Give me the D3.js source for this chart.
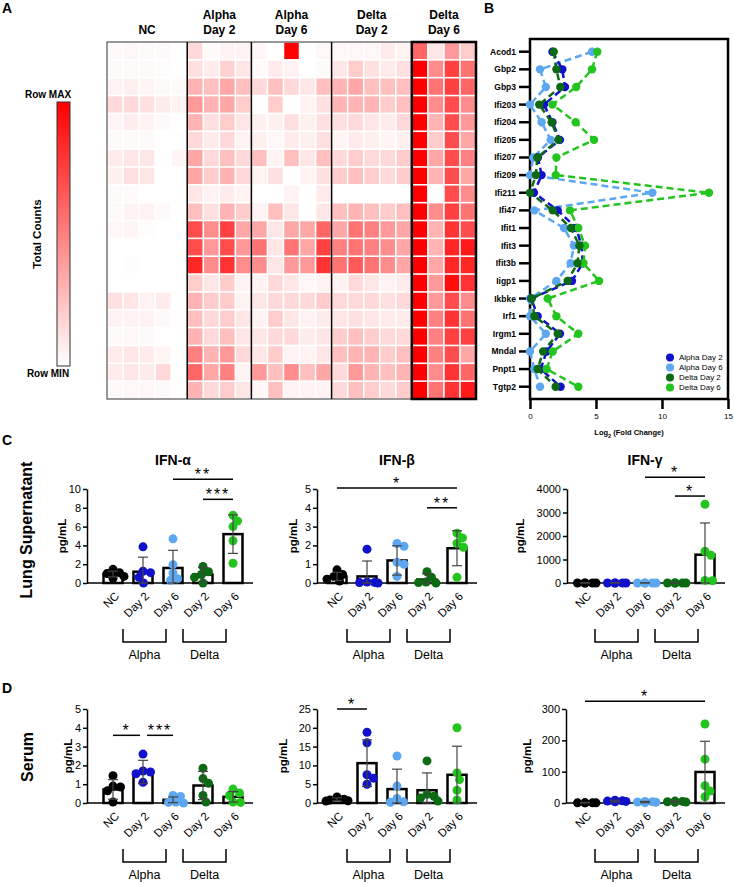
<!DOCTYPE html>
<html>
<head>
<meta charset="utf-8">
<script src="https://cdn.jsdelivr.net/npm/d3@7"></script>
<style>
body { margin: 0; background: #fff; }
text { font-family: Arial, "Liberation Sans", sans-serif; }
</style>
</head>
<body>
<svg id="fig" width="734" height="882"></svg>
<script>
// ---------- data ----------
var genes = ["Acod1","Gbp2","Gbp3","Ifi203","Ifi204","Ifi205","Ifi207","Ifi209","Ifi211","Ifi47",
             "Ifit1","Ifit3","Ifit3b","Iigp1","Ikbke","Irf1","Irgm1","Mndal","Pnpt1","Tgtp2"];

var heatGroups = [["NC"],["Alpha","Day 2"],["Alpha","Day 6"],["Delta","Day 2"],["Delta","Day 6"]];

// row-scaled counts (0 = row min, 1 = row max), one row per gene
var heatNC = [
 [0.02,0.03,0.02,0.02,0.0],[0.02,0.02,0.02,0.01,0.0],[0.05,0.06,0.04,0.02,0.02],[0.15,0.15,0.12,0.08,0.05],
 [0.04,0.07,0.05,0.02,0.0],[0.02,0.02,0.02,0.0,0.0],[0.08,0.1,0.1,0.0,0.04],[0.06,0.12,0.1,0.0,0.0],
 [0.02,0.02,0.0,0.0,0.0],[0.02,0.05,0.05,0.02,0.0],[0.03,0.04,0.01,0.0,0.0],[0.0,0.0,0.0,0.0,0.0],
 [0.0,0.01,0.0,0.0,0.0],[0.0,0.0,0.0,0.0,0.0],[0.12,0.1,0.05,0.08,0.0],[0.05,0.05,0.05,0.02,0.0],
 [0.02,0.03,0.02,0.0,0.0],[0.08,0.1,0.08,0.04,0.0],[0.08,0.1,0.08,0.15,0.0],[0.02,0.03,0.03,0.02,0.0]
];
var heatAlphaD2 = [
 [0.15,0.02,0.05,0.05],[0.12,0.08,0.18,0.1],[0.3,0.25,0.35,0.25],[0.4,0.3,0.35,0.2],
 [0.3,0.12,0.2,0.1],[0.15,0.08,0.15,0.05],[0.35,0.15,0.25,0.15],[0.35,0.2,0.3,0.15],
 [0.1,0.05,0.08,0.05],[0.25,0.12,0.3,0.2],[0.7,0.45,0.75,0.35],[0.7,0.4,0.7,0.4],
 [0.85,0.45,0.8,0.45],[0.2,0.1,0.2,0.05],[0.3,0.2,0.2,0.05],[0.25,0.15,0.2,0.1],
 [0.3,0.15,0.25,0.1],[0.5,0.3,0.4,0.15],[0.6,0.35,0.5,0.05],[0.3,0.15,0.2,0.1]
];
var heatAlphaD6 = [
 [0.03,0.0,1.0,0.0,0.03],[0.02,0.08,0.05,0.0,0.02],[0.15,0.25,0.15,0.1,0.25],[0.0,0.2,0.0,0.05,0.12],
 [0.06,0.06,0.12,0.06,0.12],[0.06,0.03,0.08,0.06,0.12],[0.25,0.05,0.25,0.1,0.25],[0.05,0.12,0.0,0.05,0.12],
 [0.0,0.0,0.05,0.0,0.08],[0.05,0.25,0.1,0.0,0.1],[0.35,0.1,0.35,0.35,0.6],[0.55,0.1,0.55,0.35,0.75],
 [0.45,0.1,0.4,0.4,0.8],[0.05,0.15,0.1,0.03,0.05],[0.1,0.15,0.15,0.15,0.2],[0.05,0.2,0.1,0.05,0.08],
 [0.1,0.15,0.15,0.08,0.1],[0.1,0.2,0.05,0.05,0.1],[0.4,0.25,0.45,0.25,0.35],[0.03,0.25,0.05,0.05,0.05]
];
var heatDeltaD2 = [
 [0.03,0.03,0.03,0.08,0.05],[0.1,0.2,0.12,0.08,0.12],[0.3,0.35,0.25,0.25,0.25],[0.3,0.3,0.3,0.2,0.25],
 [0.12,0.15,0.1,0.08,0.15],[0.04,0.08,0.06,0.04,0.06],[0.15,0.2,0.15,0.15,0.2],[0.2,0.25,0.2,0.15,0.2],
 [0.0,0.0,0.0,0.0,0.0],[0.25,0.3,0.25,0.2,0.25],[0.35,0.55,0.5,0.4,0.35],[0.5,0.55,0.5,0.45,0.35],
 [0.55,0.65,0.55,0.45,0.35],[0.05,0.15,0.1,0.05,0.08],[0.15,0.15,0.15,0.12,0.15],[0.1,0.12,0.1,0.08,0.08],
 [0.2,0.25,0.2,0.15,0.15],[0.25,0.3,0.3,0.2,0.25],[0.15,0.4,0.3,0.25,0.3],[0.15,0.25,0.2,0.15,0.2]
];
var heatDeltaD6 = [
 [0.6,0.1,0.4,0.2],[1.0,0.45,0.75,0.55],[1.0,0.55,0.75,0.6],[1.0,0.45,0.7,0.45],
 [1.0,0.3,0.7,0.4],[1.0,0.2,0.7,0.35],[1.0,0.35,0.7,0.5],[1.0,0.3,0.7,0.35],
 [1.0,0.0,0.7,0.45],[1.0,0.45,0.75,0.55],[1.0,0.3,0.8,0.7],[1.0,0.3,0.85,0.9],
 [1.0,0.35,0.85,0.85],[1.0,0.4,0.95,0.8],[1.0,0.4,0.7,0.45],[1.0,0.5,0.8,0.55],
 [1.0,0.5,0.75,0.75],[1.0,0.5,0.7,0.35],[1.0,0.45,0.8,0.6],[1.0,0.55,0.8,0.9]
];

// log2 fold change per gene
var fcSeries = ["Alpha Day 2","Alpha Day 6","Delta Day 2","Delta Day 6"];
var fcAlphaD2 = [1.7,2.45,2.65,1.06,1.7,2.27,0.6,0.88,0.3,2.1,3.5,3.9,4.0,3.18,0.1,0.58,2.27,1.26,0.81,2.32];
var fcAlphaD6 = [4.7,0.76,1.2,0.0,0.88,1.57,0.25,0.0,9.27,0.33,2.58,3.33,3.08,2.0,0.0,0.0,1.2,0.0,0.33,0.76];
var fcDeltaD2 = [1.8,2.0,2.3,0.7,1.64,2.15,0.55,0.45,0.0,1.72,3.1,3.74,3.6,2.85,0.13,0.33,2.1,1.0,0.58,1.94];
var fcDeltaD6 = [5.1,4.7,3.5,1.7,3.46,4.85,2.0,1.95,13.56,3.03,3.66,4.17,4.05,5.23,1.34,2.0,3.66,1.72,1.26,3.66];
var fcTicks = [0,5,10,15];

// cytokines, pg/mL
var categories = ["NC","Day 2","Day 6","Day 2","Day 6"];
var groupColors = ["#000000","#1111c9","#5ca7f0","#0c6a12","#24c41f"];

var lungIfnaMean = [0.95,1.2,1.6,0.9,5.2];
var lungIfnaSd   = [0.3,1.55,1.88,0.75,2.05];
var lungIfnaDots = [[1.45,1.1,1.0,0.7,0.5],[3.85,1.25,1.1,0.6,0.0],[4.7,1.95,1.06,0.46,0.28],[1.75,1.2,0.9,0.6,0.0],[7.2,6.6,6.0,4.5,2.1]];
var lungIfnaTicks = [0,2,4,6,8,10];
var lungIfnaSig = [[2,4,"**",11.05],[3,4,"***",8.9]];

var lungIfnbMean = [0.35,0.35,1.2,0.18,1.85];
var lungIfnbSd   = [0.22,0.82,0.78,0.32,0.93];
var lungIfnbDots = [[0.7,0.45,0.35,0.2,0.1],[1.8,0.05,0.03,0.02,0.0],[2.1,1.95,1.1,1.0,0.35],[0.6,0.3,0.05,0.02,0.0],[2.65,2.4,2.1,1.9,0.3]];
var lungIfnbTicks = [0,1,2,3,4,5];
var lungIfnbSig = [[0,4,"*",5.05],[3,4,"**",4.0]];

var lungIfngMean = [5,5,5,5,1205];
var lungIfngSd   = [3,3,3,3,1350];
var lungIfngDots = [[0,0,0,0,0],[0,0,0,0,0],[0,0,0,0,0],[0,0,0,0,0],[3350,1350,1180,110,100]];
var lungIfngTicks = [0,1000,2000,3000,4000];
var lungIfngSig = [[2,4,"*",4500],[3,4,"*",3700]];

var serumIfnaMean = [0.72,1.65,0.17,0.93,0.33];
var serumIfnaSd   = [0.52,0.62,0.15,0.75,0.28];
var serumIfnaDots = [[1.45,0.9,0.85,0.65,0.05],[2.6,1.7,1.65,1.55,1.1],[0.4,0.35,0.05,0.03,0.0],[1.85,1.3,1.05,0.4,0.05],[0.74,0.53,0.4,0.05,0.03]];
var serumIfnaTicks = [0,1,2,3,4,5];
var serumIfnaSig = [[0,1,"*",3.6],[1,2,"***",3.6]];

var serumIfnbMean = [0.95,10.6,3.7,3.4,7.5];
var serumIfnbSd   = [0.4,6.2,5.3,4.6,7.6];
var serumIfnbDots = [[1.6,1.0,0.8,0.6,0.5],[18.8,16.0,7.5,6.6,5.0],[12.5,4.5,1.2,0.3,0.2],[11.2,2.3,1.8,1.3,0.5],[20.0,8.0,6.2,3.4,0.8]];
var serumIfnbTicks = [0,5,10,15,20,25];
var serumIfnbSig = [[0,1,"*",25]];

var serumIfngMean = [1,6,3,4,99];
var serumIfngSd   = [1,3,2,2,98];
var serumIfngDots = [[0.5,0.5,0.5,0.5,0.5],[9,7,6,5,4],[5,4,3,2,1],[6,5,4,3,2],[252,140,55,38,20]];
var serumIfngTicks = [0,100,200,300];
var serumIfngSig = [[0,4,"*",325]];

// ---------- drawing ----------
var svg = d3.select("#fig");

function addText(x, y, txt, size, weight, anchor) {
    return svg.append("text").attr("x", x).attr("y", y).text(txt)
        .style("font-size", size + "px").style("font-weight", weight || "normal")
        .attr("text-anchor", anchor || "start").attr("fill", "#000");
}

addText(2, 13, "A", 14, "bold");
addText(484, 13, "B", 14, "bold");
addText(2, 445, "C", 14, "bold");
addText(2, 693, "D", 14, "bold");

// ---- panel A heatmap
var heatData = [heatNC, heatAlphaD2, heatAlphaD6, heatDeltaD2, heatDeltaD6];
var nCols = d3.sum(heatData, function(g){ return g[0].length; });
var colX = d3.scaleLinear().domain([0, nCols]).range([107, 476]);
var rowY = d3.scaleLinear().domain([0, genes.length]).range([42, 399]);
var heatColor = d3.scaleLinear().domain([0, 1]).range(["#ffffff", "#ff0000"]);

var heatG = svg.append("g");
var start = 0, bounds = [];
heatData.forEach(function(group, gi) {
    var n = group[0].length;
    bounds.push([start, start + n]);
    group.forEach(function(row, ri) {
        row.forEach(function(v, ci) {
            heatG.append("rect")
                .attr("x", colX(start + ci) + 0.8).attr("y", rowY(ri) + 0.8)
                .attr("width", colX(1) - colX(0) - 1.6).attr("height", rowY(1) - rowY(0) - 1.6)
                .attr("fill", heatColor(v));
        });
    });
    var mid = (colX(start) + colX(start + n)) / 2;
    var lines = heatGroups[gi];
    if (lines.length == 1) {
        addText(mid, 34, lines[0], 12, "bold", "middle");
    } else {
        addText(mid, 19, lines[0], 12, "bold", "middle");
        addText(mid, 34, lines[1], 12, "bold", "middle");
    }
    start += n;
});
heatG.append("rect").attr("x", colX(0)).attr("y", rowY(0))
    .attr("width", colX(nCols) - colX(0)).attr("height", rowY(genes.length) - rowY(0))
    .attr("fill", "none").attr("stroke", "#333").attr("stroke-width", 1);
bounds.slice(1).forEach(function(b) {
    heatG.append("line").attr("x1", colX(b[0])).attr("x2", colX(b[0]))
        .attr("y1", rowY(0)).attr("y2", rowY(genes.length))
        .attr("stroke", "#000").attr("stroke-width", 1.5);
});
var last = bounds[bounds.length - 1];
heatG.append("rect").attr("x", colX(last[0])).attr("y", rowY(0))
    .attr("width", colX(last[1]) - colX(last[0])).attr("height", rowY(genes.length) - rowY(0))
    .attr("fill", "none").attr("stroke", "#000").attr("stroke-width", 2.5);

// colour bar
var grad = svg.append("defs").append("linearGradient").attr("id", "rowgrad")
    .attr("x1", 0).attr("y1", 1).attr("x2", 0).attr("y2", 0);
grad.append("stop").attr("offset", 0).attr("stop-color", heatColor(0));
grad.append("stop").attr("offset", 1).attr("stop-color", heatColor(1));
svg.append("rect").attr("x", 57).attr("y", 102).attr("width", 13).attr("height", 264)
    .attr("fill", "url(#rowgrad)").attr("stroke", "#333").attr("stroke-width", 1);
addText(48, 98, "Row MAX", 10, "bold", "middle");
addText(48, 377, "Row MIN", 10, "bold", "middle");
addText(0, 0, "Total Counts", 11.5, "bold", "middle").attr("transform", "translate(41,234) rotate(-90)");

// ---- panel B fold change
var bx = d3.scaleLinear().domain([0, 15]).range([530, 728]);
var by = d3.scalePoint().domain(genes).range([51.7, 386.7]);
var bG = svg.append("g");
bG.append("rect").attr("x", 530).attr("y", 39).attr("width", 198).attr("height", 360)
    .attr("fill", "none").attr("stroke", "#000").attr("stroke-width", 2.5);
genes.forEach(function(g) {
    bG.append("line").attr("x1", 519).attr("x2", 530).attr("y1", by(g)).attr("y2", by(g))
        .attr("stroke", "#000").attr("stroke-width", 2.5);
    addText(516, by(g), g, 8.5, "bold", "end").attr("dy", "0.35em");
});
var bxAxis = bG.append("g").attr("transform", "translate(0,399)")
    .call(d3.axisBottom(bx).tickValues(fcTicks).tickSize(10).tickSizeOuter(0));
bxAxis.select(".domain").remove();
bxAxis.selectAll("line").attr("stroke", "#000").attr("stroke-width", 2.5);
bxAxis.selectAll("text").style("font-size", "8px").attr("dy", "0.9em").attr("fill", "#000")
    .style("font-family", "Arial, 'Liberation Sans', sans-serif");
var xTitle = addText(629, 435, "Log", 7.5, "bold", "middle");
xTitle.append("tspan").text("2").attr("baseline-shift", "sub").style("font-size", "5.5px");
xTitle.append("tspan").text(" (Fold Change)");

var fcData = [fcAlphaD2, fcAlphaD6, fcDeltaD2, fcDeltaD6];
var fcColors = [groupColors[1], groupColors[2], groupColors[3], groupColors[4]];
var fcLine = d3.line().x(function(d){ return bx(d[1]); }).y(function(d){ return by(d[0]); });
[1, 0, 3, 2].forEach(function(si) {
    var pts = genes.map(function(g, i){ return [g, fcData[si][i]]; });
    bG.append("path").attr("d", fcLine(pts)).attr("fill", "none")
        .attr("stroke", fcColors[si]).attr("stroke-width", 2.5).attr("stroke-dasharray", "7,4");
    pts.forEach(function(p) {
        bG.append("circle").attr("cx", bx(p[1])).attr("cy", by(p[0])).attr("r", 4.2).attr("fill", fcColors[si]);
    });
});
fcSeries.forEach(function(s, i) {
    var yy = 357.5 + i * 10;
    bG.append("circle").attr("cx", 670).attr("cy", yy).attr("r", 4).attr("fill", fcColors[i]);
    addText(679, yy, s, 8, "normal", "start").attr("dy", "0.35em");
});

// ---- panels C and D bar charts
function swarm(vals, y, r) {
    var placed = [];
    vals.forEach(function(v) {
        var py = y(v), dx = 0;
        for (var k = 0; k < 60; k++) {
            var cand = (k % 2 ? 1 : -1) * Math.ceil(k / 2) * 0.5;
            var ok = placed.every(function(q){ return Math.hypot(q.dx - cand, q.y - py) >= 1.6 * r; });
            if (ok) { dx = cand; break; }
        }
        dx = Math.max(-11, Math.min(11, dx));
        placed.push({v: v, y: py, dx: dx});
    });
    return placed;
}

function drawBarChart(cfg) {
    var g = svg.append("g");
    var yMax = cfg.ticks[cfg.ticks.length - 1];
    var y = d3.scaleLinear().domain([0, yMax]).range([cfg.y0, cfg.y0 - 94]);
    var cx = function(i){ return cfg.x0 + cfg.first + i * 30; };
    var xEnd = cx(categories.length - 1) + 20;

    var ax = g.append("g").attr("transform", "translate(" + cfg.x0 + ",0)")
        .call(d3.axisLeft(y).tickValues(cfg.ticks).tickSize(4).tickSizeOuter(0).tickPadding(2)
              .tickFormat(d3.format("d")));
    ax.select(".domain").attr("stroke", "#000").attr("stroke-width", 1.5);
    ax.selectAll("line").attr("stroke", "#000").attr("stroke-width", 1.5);
    ax.selectAll("text").style("font-size", "11px").attr("fill", "#000")
        .style("font-family", "Arial, 'Liberation Sans', sans-serif");
    g.append("line").attr("x1", cfg.x0).attr("x2", xEnd).attr("y1", cfg.y0).attr("y2", cfg.y0)
        .attr("stroke", "#000").attr("stroke-width", 1.5);

    categories.forEach(function(c, i) {
        var m = cfg.mean[i], s = cfg.sd[i], col = groupColors[i];
        g.append("rect").attr("x", cx(i) - 9.5).attr("y", y(m)).attr("width", 19)
            .attr("height", Math.max(0, cfg.y0 - y(m)))
            .attr("fill", "none").attr("stroke", "#000").attr("stroke-width", 2.5);
        swarm(cfg.dots[i], y, 4.5).forEach(function(p) {
            g.append("circle").attr("cx", cx(i) + p.dx).attr("cy", p.y).attr("r", 4.5).attr("fill", col);
        });
        var lo = y(Math.max(0, m - s)), hi = y(m + s);
        g.append("line").attr("x1", cx(i)).attr("x2", cx(i)).attr("y1", lo).attr("y2", hi)
            .attr("stroke", "#444").attr("stroke-width", 1.2);
        [lo, hi].forEach(function(yy) {
            g.append("line").attr("x1", cx(i) - 5).attr("x2", cx(i) + 5).attr("y1", yy).attr("y2", yy)
                .attr("stroke", "#444").attr("stroke-width", 1.2);
        });
        g.append("text").attr("transform", "translate(" + (cx(i) + 4) + "," + (cfg.y0 + 11) + ") rotate(-45)")
            .attr("text-anchor", "end").attr("dy", "0.35em").style("font-size", "11.5px").text(c);
    });

    // strain brackets
    [["Alpha", 1, 2], ["Delta", 3, 4]].forEach(function(b) {
        var xa = cx(b[1]) - 20, xb = cx(b[2]) - 7;
        g.append("path").attr("d", "M" + xa + "," + (cfg.y0 + 46) + "V" + (cfg.y0 + 59) + "H" + xb + "V" + (cfg.y0 + 46))
            .attr("fill", "none").attr("stroke", "#000").attr("stroke-width", 1.5);
        g.append("text").attr("x", (xa + xb) / 2).attr("y", cfg.y0 + 76).attr("text-anchor", "middle")
            .style("font-size", "12.5px").text(b[0]);
    });

    // significance
    cfg.sig.forEach(function(s) {
        var before = cfg.sig.some(function(o){ return o !== s && o[3] == s[3] && o[1] == s[0]; });
        var after = cfg.sig.some(function(o){ return o !== s && o[3] == s[3] && o[0] == s[1]; });
        var xa = cx(s[0]) + (before ? 4 : 0);
        var xb = cx(s[1]) - (after ? 3 : 0);
        var yy = y(s[3]);
        g.append("line").attr("x1", xa).attr("x2", xb).attr("y1", yy).attr("y2", yy)
            .attr("stroke", "#000").attr("stroke-width", 1.5);
        g.append("text").attr("x", (xa + xb) / 2).attr("y", yy + 1).attr("text-anchor", "middle")
            .style("font-size", "16px").style("letter-spacing", "2px").text(s[2]);
    });

    if (cfg.title) addText(cx(2), 465, cfg.title, 14, "bold", "middle");
    addText(0, 0, "pg/mL", 11.5, "bold", "middle").attr("dy", "0.35em")
        .attr("transform", "translate(" + cfg.labelX + "," + (cfg.y0 - 47) + ") rotate(-90)");
}

var barCharts = [
    {title: "IFN-α", mean: lungIfnaMean, sd: lungIfnaSd, dots: lungIfnaDots, ticks: lungIfnaTicks, sig: lungIfnaSig, x0: 87, y0: 583, first: 26, labelX: 62},
    {title: "IFN-β", mean: lungIfnbMean, sd: lungIfnbSd, dots: lungIfnbDots, ticks: lungIfnbTicks, sig: lungIfnbSig, x0: 317, y0: 583, first: 20, labelX: 293},
    {title: "IFN-γ", mean: lungIfngMean, sd: lungIfngSd, dots: lungIfngDots, ticks: lungIfngTicks, sig: lungIfngSig, x0: 567, y0: 583, first: 18, labelX: 520},
    {title: null, mean: serumIfnaMean, sd: serumIfnaSd, dots: serumIfnaDots, ticks: serumIfnaTicks, sig: serumIfnaSig, x0: 87, y0: 803, first: 26, labelX: 68},
    {title: null, mean: serumIfnbMean, sd: serumIfnbSd, dots: serumIfnbDots, ticks: serumIfnbTicks, sig: serumIfnbSig, x0: 317, y0: 803, first: 20, labelX: 283},
    {title: null, mean: serumIfngMean, sd: serumIfngSd, dots: serumIfngDots, ticks: serumIfngTicks, sig: serumIfngSig, x0: 566, y0: 803, first: 19, labelX: 527}
];
barCharts.forEach(drawBarChart);

addText(0, 0, "Lung Supernatant", 16, "bold", "middle").attr("transform", "translate(32,530) rotate(-90)");
addText(0, 0, "Serum", 16, "bold", "middle").attr("transform", "translate(33,757) rotate(-90)");
</script>
</body>
</html>
